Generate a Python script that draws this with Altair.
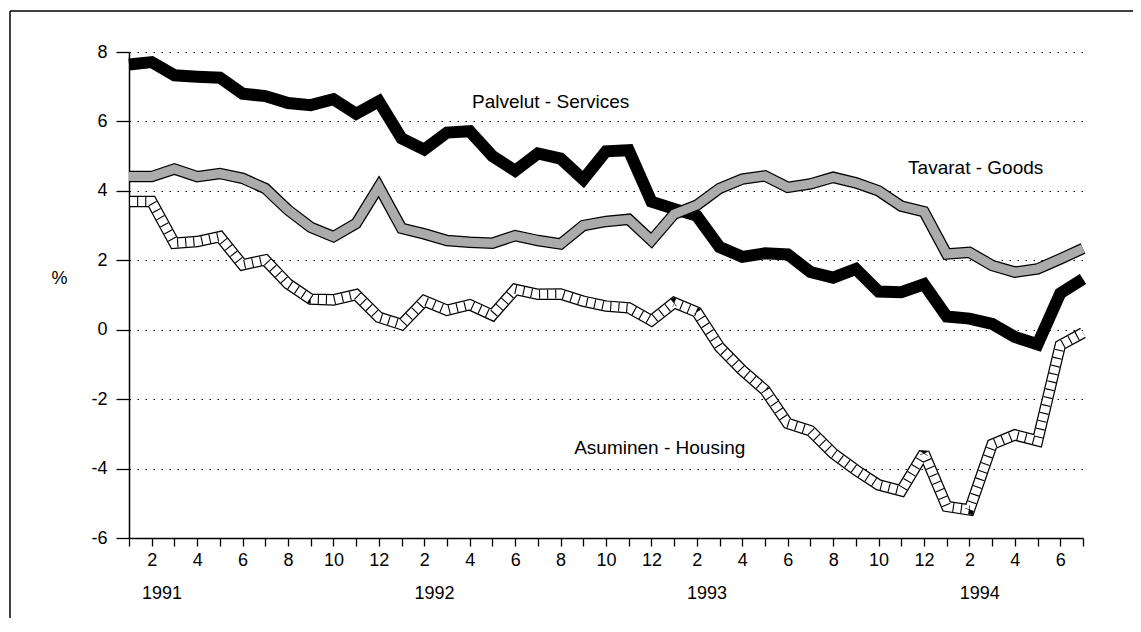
import altair as alt
import pandas as pd

# ---- data ----
month_idx = list(range(43))  # Jan 1991 .. Jul 1994
services = [7.64, 7.71, 7.33, 7.29, 7.26, 6.80, 6.73, 6.53, 6.47, 6.64,
            6.22, 6.58, 5.51, 5.19, 5.68, 5.72, 5.00, 4.58, 5.08, 4.93,
            4.33, 5.14, 5.17, 3.69, 3.48, 3.28, 2.38, 2.10, 2.20, 2.17,
            1.66, 1.50, 1.75, 1.10, 1.08, 1.31, 0.38, 0.32, 0.17, -0.21,
            -0.42, 1.05, 1.46]
goods = [4.41, 4.41, 4.63, 4.41, 4.50, 4.36, 4.07, 3.45, 2.95, 2.68,
         3.06, 4.12, 2.92, 2.76, 2.57, 2.52, 2.49, 2.71, 2.57, 2.47,
         3.00, 3.12, 3.18, 2.57, 3.33, 3.59, 4.07, 4.34, 4.43, 4.10,
         4.20, 4.39, 4.23, 4.00, 3.56, 3.40, 2.18, 2.23, 1.85, 1.66,
         1.75, 2.04, 2.34]
housing = [3.69, 3.69, 2.49, 2.54, 2.68, 1.87, 2.01, 1.32, 0.88, 0.86,
           1.01, 0.36, 0.15, 0.83, 0.56, 0.72, 0.42, 1.16, 1.02, 1.03,
           0.82, 0.68, 0.63, 0.26, 0.78, 0.51, -0.50, -1.17, -1.74, -2.70,
           -2.91, -3.56, -4.04, -4.47, -4.64, -3.55, -5.09, -5.19, -3.30, -3.03,
           -3.20, -0.45, -0.09]
series_labels = ["Palvelut - Services", "Tavarat - Goods", "Asuminen - Housing"]
label_x = [15.1, 34.3, 19.6]
label_y = [6.55, 4.66, -3.42]
year_labels = ["1991", "1992", "1993", "1994"]
year_x = [1.45, 13.45, 25.45, 37.45]
y_ticks = [-6, -4, -2, 0, 2, 4, 6, 8]

W, H = 954, 486
FONT = "Liberation Sans"

df = pd.DataFrame({
    "idx": month_idx * 3,
    "value": services + goods + housing,
    "series": ["S"] * len(services) + ["G"] * len(goods) + ["H"] * len(housing),
})
labels_df = pd.DataFrame({"idx": label_x, "value": label_y, "label": series_labels})
years_df = pd.DataFrame({"idx": year_x, "label": year_labels})

x_scale = alt.Scale(domain=[0, 42], nice=False, zero=False)
y_scale = alt.Scale(domain=[-6, 8], nice=False, zero=False)

month_expr = "((datum.value % 12) + 1) % 2 == 0 ? '' + ((datum.value % 12) + 1) : ''"
y_expr = "datum.value < 0 ? '-' + abs(datum.value) : '' + datum.value"

x_axis = alt.Axis(values=month_idx, labelExpr=month_expr, tickSize=8, tickColor="black",
                  tickWidth=1.3, domainColor="black", domainWidth=1.5, labelFontSize=18,
                  labelFont=FONT, labelColor="black", labelPadding=5, labelFlush=False,
                  grid=False, title=None)
y_axis = alt.Axis(values=y_ticks, labelExpr=y_expr, tickSize=13, tickColor="black",
                  tickWidth=1.3, domainColor="black", domainWidth=1.5, labelFontSize=18,
                  labelFont=FONT, labelColor="black", labelPadding=9, grid=True,
                  gridDash=[1.5, 6.5], gridColor="black", gridWidth=1.2, title="%",
                  titleAngle=0, titleX=-70, titleY=226, titleFontSize=18, titleFont=FONT,
                  titleFontWeight="normal", titleAlign="center", titleBaseline="middle",
                  titleColor="black")

X = alt.X("idx:Q", scale=x_scale, axis=x_axis)
Y = alt.Y("value:Q", scale=y_scale, axis=y_axis)

base = alt.Chart(df)

def band(series, color, width, **kw):
    return base.transform_filter(f"datum.series == '{series}'").mark_line(
        color=color, strokeWidth=width, strokeMiterLimit=2, **kw
    ).encode(x=X, y=Y)

s_line = band("S", "black", 12)
g_outer = band("G", "black", 11.5)
g_inner = band("G", "#ababab", 9)
h_outer = band("H", "black", 11.5)
h_inner = band("H", "white", 9)
h_hatch = band("H", "black", 9, strokeDash=[1.1, 7])

series_text = alt.Chart(labels_df).mark_text(
    align="left", baseline="middle", fontSize=19, font=FONT, color="black"
).encode(x=X, y=Y, text="label:N")

year_text = alt.Chart(years_df).mark_text(
    align="center", baseline="middle", fontSize=18, font=FONT, color="black"
).encode(x=X, y=alt.value(H + 56), text="label:N")

frame_df = pd.DataFrame({"k": [0]})
left_border = alt.Chart(frame_df).mark_rule(color="black", strokeWidth=1.5).encode(
    x=alt.value(-119), y=alt.value(-41), y2=alt.value(H + 80))
top_border = alt.Chart(frame_df).mark_rule(color="black", strokeWidth=1.5).encode(
    x=alt.value(-119), x2=alt.value(W + 50), y=alt.value(-41))

chart = alt.layer(
    s_line, g_outer, g_inner, h_outer, h_inner, h_hatch,
    series_text, year_text, left_border, top_border,
).properties(
    width=W, height=H,
    autosize=alt.AutoSizeParams(type="none"),
    padding={"left": 121, "top": 44, "right": 50, "bottom": 80},
    background="white",
).configure_view(stroke=None)

chart.save("out.html", embed_options={"renderer": "svg", "actions": False})
